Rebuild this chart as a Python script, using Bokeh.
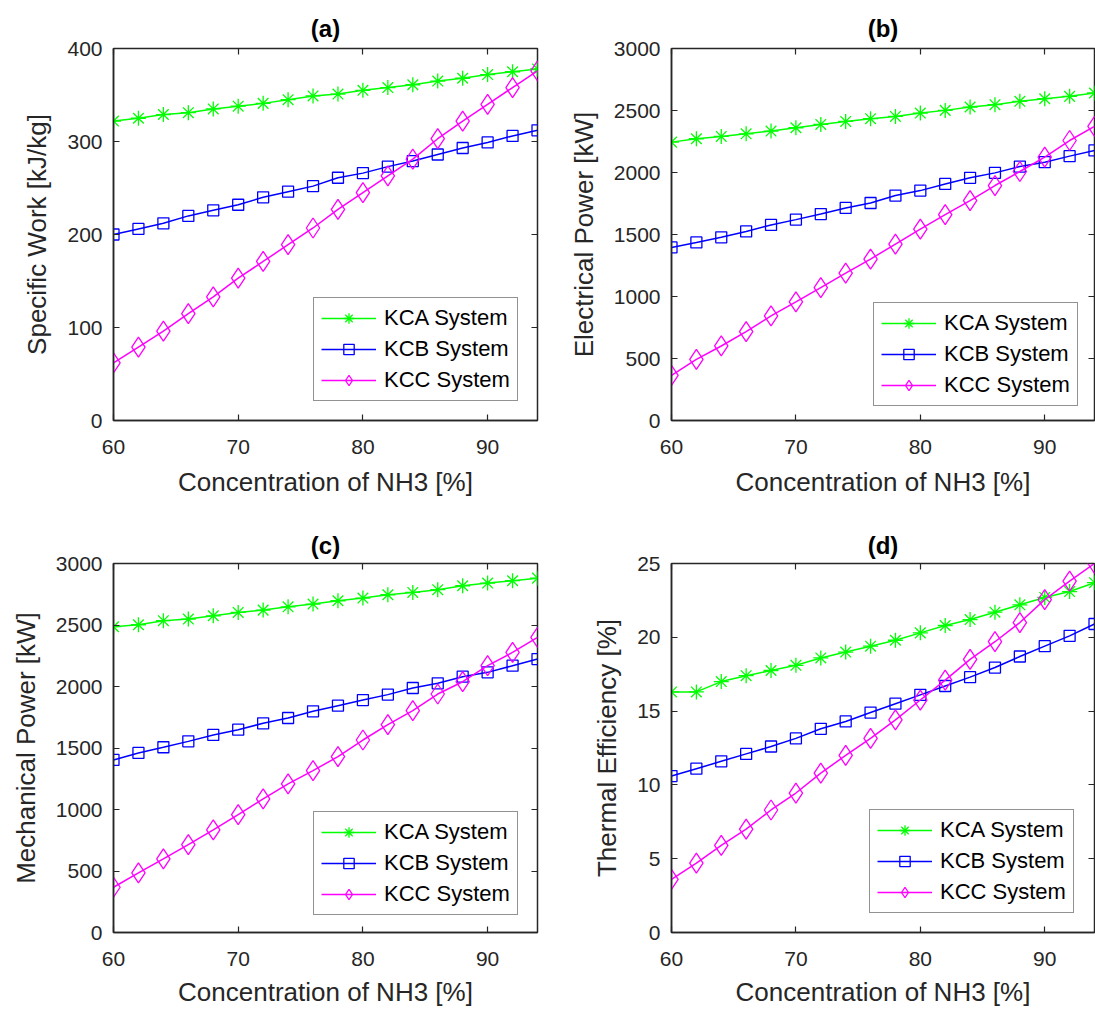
from bokeh.plotting import figure
from bokeh.layouts import column, row
from bokeh.models import Legend, LegendItem, LinearAxis, FixedTicker, Range1d
from bokeh.embed import file_html
from bokeh.resources import INLINE

# ---------------- data ----------------
conc = [60, 62, 64, 66, 68, 70, 72, 74, 76, 78, 80, 82, 84, 86, 88, 90, 92, 94]

a_kca = [322, 325, 329, 331, 335, 338, 341, 345, 349, 351, 355, 358, 361, 365, 368, 372, 375, 378]
a_kcb = [200, 206, 212, 220, 226, 232, 240, 246, 252, 261, 266, 273, 279, 286, 293, 299, 306, 312]
a_kcc = [62, 79, 96, 115, 133, 153, 171, 189, 207, 227, 245, 263, 281, 303, 322, 340, 358, 376]

b_kca = [2245, 2272, 2291, 2312, 2334, 2361, 2388, 2412, 2434, 2452, 2479, 2501, 2528, 2547, 2574, 2595, 2614, 2641]
b_kcb = [1396, 1436, 1477, 1525, 1577, 1620, 1665, 1714, 1754, 1814, 1854, 1908, 1957, 1997, 2048, 2083, 2132, 2178]
b_kcc = [364, 493, 601, 717, 843, 957, 1072, 1188, 1302, 1423, 1544, 1660, 1773, 1895, 2008, 2124, 2258, 2372]

c_kca = [2486, 2502, 2535, 2548, 2575, 2602, 2621, 2648, 2670, 2697, 2719, 2746, 2765, 2787, 2819, 2841, 2860, 2881]
c_kcb = [1403, 1460, 1506, 1554, 1606, 1649, 1701, 1744, 1798, 1844, 1890, 1934, 1988, 2026, 2080, 2115, 2169, 2223]
c_kcc = [368, 485, 598, 715, 834, 959, 1086, 1208, 1316, 1430, 1565, 1690, 1804, 1939, 2039, 2169, 2277, 2399]

d_kca = [16.3, 16.3, 17.0, 17.4, 17.75, 18.1, 18.6, 19.0, 19.4, 19.8, 20.3, 20.8, 21.2, 21.7, 22.2, 22.7, 23.1, 23.7]
d_kcb = [10.6, 11.1, 11.6, 12.1, 12.6, 13.15, 13.8, 14.3, 14.9, 15.5, 16.1, 16.7, 17.3, 17.95, 18.7, 19.4, 20.1, 20.9]
d_kcc = [3.6, 4.7, 5.9, 7.0, 8.3, 9.45, 10.8, 12.0, 13.15, 14.4, 15.75, 17.1, 18.5, 19.7, 21.0, 22.55, 23.8, 25.0]

series_names = ["KCA System", "KCB System", "KCC System"]
x_ticks = [60, 70, 80, 90]
x_label = "Concentration of NH3 [%]"

FONT = "Liberation Sans"
AXC = "#262626"


def make_panel(title, ylabel, ymax, yticks, kca, kcb, kcc,
               width, height, mbl, mbr, mbt, mbb, leg_loc, title_standoff,
               xl_standoff, xa_standoff):
    p = figure(width=width, height=height,
               x_range=Range1d(60, 94), y_range=Range1d(0, ymax),
               output_backend="svg", toolbar_location=None,
               min_border_left=mbl, min_border_right=mbr,
               min_border_top=mbt, min_border_bottom=mbb,
               background_fill_color="white", border_fill_color="white")
    p.grid.visible = False
    p.outline_line_color = AXC
    p.outline_line_width = 1.5

    p.title.text = title
    p.title.align = "center"
    p.title.text_font = FONT
    p.title.text_font_size = "24px"
    p.title.text_font_style = "bold"
    p.title.text_color = "black"
    p.title.standoff = title_standoff

    for ax, ticks in ((p.xaxis[0], x_ticks), (p.yaxis[0], yticks)):
        ax.ticker = FixedTicker(ticks=ticks)
        ax.major_tick_in = 6
        ax.major_tick_out = 0
        ax.minor_tick_line_color = None
        ax.major_tick_line_color = AXC
        ax.major_tick_line_width = 1.2
        ax.axis_line_color = AXC
        ax.axis_line_width = 1.5
        ax.major_label_text_font = FONT
        ax.major_label_text_font_size = "21px"
        ax.major_label_text_color = AXC
        ax.axis_label_text_font = FONT
        ax.axis_label_text_font_size = "26px"
        ax.axis_label_text_font_style = "normal"
        ax.axis_label_text_color = AXC
    p.xaxis.axis_label = x_label
    p.xaxis.major_label_standoff = xl_standoff
    p.xaxis.axis_label_standoff = xa_standoff
    p.yaxis.axis_label = ylabel
    p.yaxis.major_label_standoff = 11
    p.yaxis.axis_label_standoff = 12

    # tick marks on the top and right edges of the box (no labels)
    for loc, ticks in (("above", x_ticks), ("right", yticks)):
        ax = LinearAxis(ticker=FixedTicker(ticks=ticks),
                        major_label_text_font_size="1px",
                        major_label_text_color=None,
                        major_label_standoff=0,
                        major_tick_in=6, major_tick_out=0,
                        major_tick_line_color=AXC, major_tick_line_width=1.2,
                        minor_tick_line_color=None, axis_line_color=None)
        p.add_layout(ax, loc)

    items = []
    specs = [
        (kca, "#00FF00", "asterisk", 15),
        (kcb, "#0000FF", "square", 11),
        (kcc, "#FF00FF", "diamond", 20),
    ]
    for name, (ys, col, mk, sz) in zip(series_names, specs):
        ln = p.line(conc, ys, line_color=col, line_width=1.5)
        sc = p.scatter(conc, ys, marker=mk, size=sz, line_color=col,
                       fill_color=None, line_width=1.3)
        items.append(LegendItem(label=name, renderers=[ln, sc]))

    leg = Legend(items=items, location=leg_loc)
    leg.margin = 0
    leg.padding = 7
    leg.spacing = 5
    leg.glyph_width = 55
    leg.glyph_height = 26
    leg.label_height = 26
    leg.label_standoff = 8
    leg.label_text_font = FONT
    leg.label_text_font_size = "22px"
    leg.label_text_color = "black"
    leg.border_line_color = AXC
    leg.border_line_width = 1.2
    leg.background_fill_color = "white"
    leg.background_fill_alpha = 1.0
    p.add_layout(leg, "center")
    return p


pa = make_panel("(a)", "Specific Work [kJ/kg]", 400, [0, 100, 200, 300, 400],
                a_kca, a_kcb, a_kcc, 560, 510, 113, 23, 48, 90, (200, 19), 14, 19, 10)
pb = make_panel("(b)", "Electrical Power [kW]", 3000, [0, 500, 1000, 1500, 2000, 2500, 3000],
                b_kca, b_kcb, b_kcc, 535, 510, 111, 1, 48, 90, (202, 14), 14, 19, 10)
pc = make_panel("(c)", "Mechanical Power [kW]", 3000, [0, 500, 1000, 1500, 2000, 2500, 3000],
                c_kca, c_kcb, c_kcc, 560, 504, 113, 23, 53, 82, (200, 17), 9, 19, 8)
pd = make_panel("(d)", "Thermal Efficiency [%]", 25, [0, 5, 10, 15, 20, 25],
                d_kca, d_kcb, d_kcc, 535, 504, 111, 1, 53, 82, (198, 19), 9, 19, 8)

layout = column(row(pa, pb), row(pc, pd))
open("out.html", "w").write(file_html(layout, INLINE))
